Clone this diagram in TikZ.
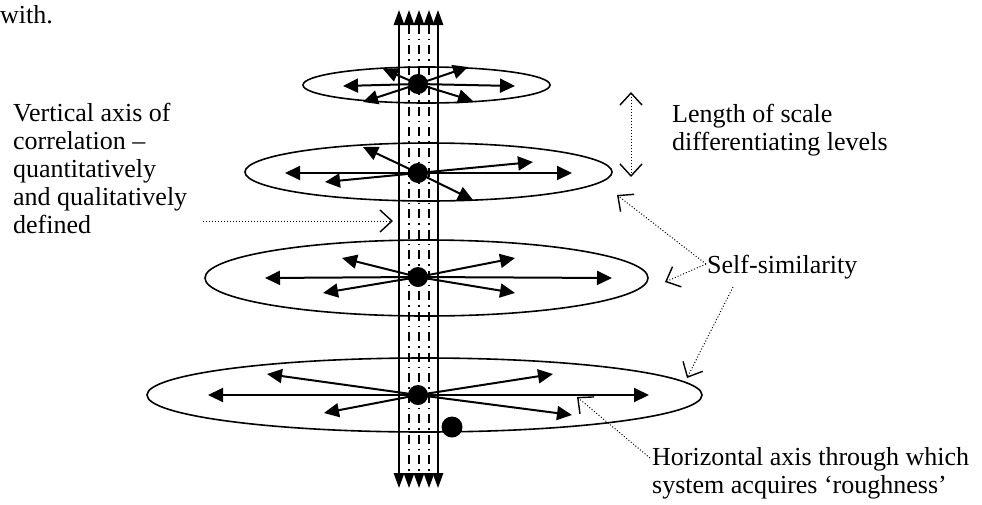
\documentclass[tikz,border=0pt]{standalone}
\usepackage{fontspec}
\setmainfont{Liberation Serif}
\usetikzlibrary{arrows.meta}
\begin{document}
\begin{tikzpicture}[x=1pt,y=-1pt,
  ring/.style={line width=1.6pt},
  ray/.style={line width=2pt,-{Triangle[length=15pt,width=14pt]}},
  hub/.style={circle,fill=black,inner sep=0pt,minimum size=20pt},
  pillar/.style={line width=1.8pt,{Triangle[length=15pt,width=10.4pt]}-{Triangle[length=15pt,width=10.4pt]}},
  strand/.style={line width=1.8pt,dash pattern=on 9pt off 5pt on 1.5pt off 5pt,
    {Triangle[length=15pt,width=10.4pt]}-{Triangle[length=15pt,width=10.4pt]}},
  leader/.style={line width=1pt,dash pattern=on 1pt off 2pt},
  barb/.style={-{Straight Barb[length=12pt,width=22pt,line width=1.4pt]}},
  twobarb/.style={{Straight Barb[length=12pt,width=22pt,line width=1.4pt]}-{Straight Barb[length=12pt,width=22pt,line width=1.4pt]}},
  txt/.style={font=\fontsize{26}{28}\selectfont,inner sep=0pt,align=left,anchor=base west},
]
\useasboundingbox (0,0) rectangle (982,504);

% vertical column: two solid sides and three broken strands
\foreach \x in {399,438} \draw[pillar] (\x,10) -- (\x,488);
\foreach \x in {409,419,429} \draw[strand] (\x,10) -- (\x,488);

% the four levels
\draw[ring] (426.5,85) ellipse [x radius=123.5pt, y radius=18pt];
\draw[ring] (428.5,172) ellipse [x radius=183.5pt, y radius=29pt];
\draw[ring] (426.5,278) ellipse [x radius=221.5pt, y radius=38pt];
\draw[ring] (424.5,395) ellipse [x radius=277.5pt, y radius=37pt];

% centres of the levels
\coordinate (c1) at (418,84);
\coordinate (c2) at (418,173);
\coordinate (c3) at (418,277);
\coordinate (c4) at (418,395);

% radiating arrows
\foreach \h/\px/\py [count=\i] in {
  c1/343/86, c1/515/86, c1/383/69, c1/468/67, c1/363/102, c1/473/101,
  c2/285/173, c2/572/173, c2/363/147, c2/473/200, c2/325/182, c2/533/162,
  c3/265/278, c3/612/278, c3/342/258, c3/515/258, c3/323/293, c3/515/293,
  c4/208/395, c4/649/395, c4/267/374, c4/553/374, c4/324/413, c4/572/415}
{
  \coordinate (r\i) at (\px,\py);
  \draw[ray] (\h) -- (r\i);
}

\node[hub] (d1) at (c1) {};
\node[hub] (d2) at (c2) {};
\node[hub] (d3) at (c3) {};
\node[hub] (d4) at (c4) {};
\node[hub,minimum width=19pt,minimum height=21pt] (d5) at (452,427) {};

% texts (a multi-line node sits on the baseline of its last line)
\node[txt] (with) at (0,23) {with.};
\node[txt] (vaxis) at (13,233) {Vertical axis of\\correlation –\\quantitatively\\and qualitatively\\defined};
\node[txt] (scale) at (672,150) {Length of scale\\differentiating levels};
\node[txt] (self) at (707,273) {Self-similarity};
\node[txt] (horiz) at (652,493) {Horizontal axis through which\\system acquires ‘roughness’};

% pointers
\coordinate (v0) at (203,221);
\coordinate (v1) at (393,221);
\draw[leader,barb] (v0) -- (v1);

\coordinate (l0) at (631,92);
\coordinate (l1) at (631,177);
\draw[leader,twobarb] (l0) -- (l1);

\coordinate (s0) at (706,264);
\coordinate (s1) at (617,195);
\coordinate (s2) at (665,282);
\coordinate (s3) at (733,287);
\coordinate (s4) at (687,378);
\draw[leader,barb] (s0) -- (s1);
\draw[leader,barb] (s0) -- (s2);
\draw[leader,barb] (s3) -- (s4);

\coordinate (h0) at (650,458);
\coordinate (h1) at (577,397);
\draw[leader,barb] (h0) -- (h1);
\end{tikzpicture}
\end{document}
